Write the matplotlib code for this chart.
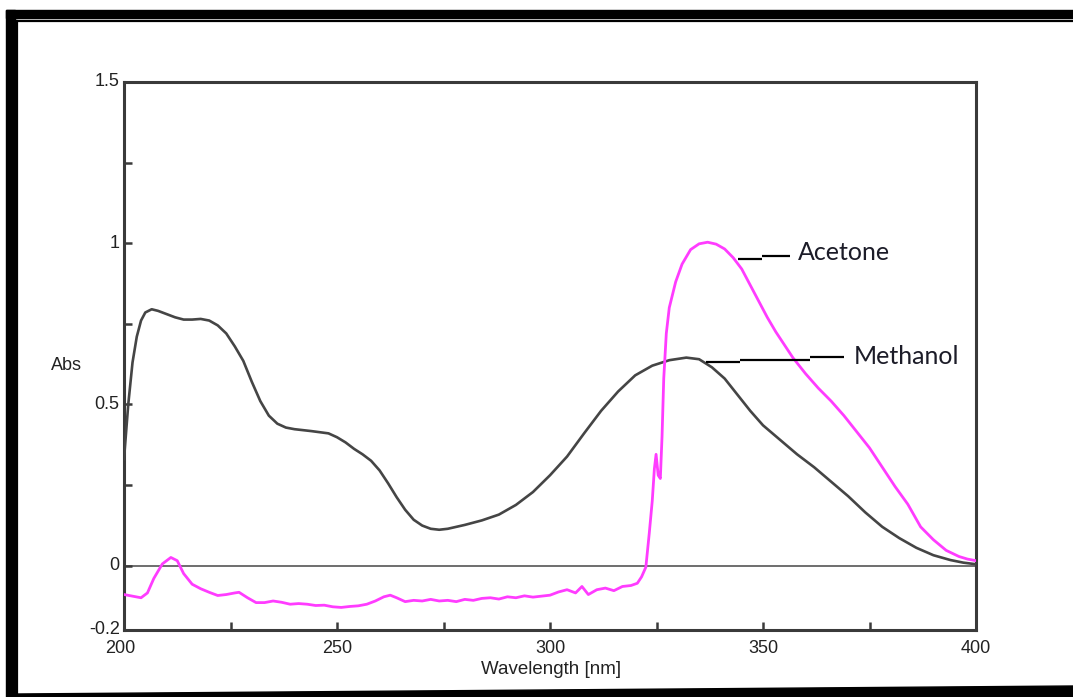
import matplotlib
matplotlib.use("Agg")
import matplotlib.pyplot as plt
from matplotlib.patches import Rectangle, Polygon
from matplotlib.lines import Line2D

# Absorbance spectra (wavelength in nm, absorbance)
methanol_wl = [200, 201, 202, 203, 204, 205, 206.5, 208, 210, 212, 214, 216, 218, 220,
               222, 224, 226, 228, 230, 232, 234, 236, 238, 240, 244, 248, 250, 252,
               254, 256, 258, 260, 262, 264, 266, 268, 270, 272, 274, 276, 280, 284,
               288, 292, 296, 300, 304, 308, 312, 316, 320, 324, 328, 332, 335, 338,
               341, 344, 347, 350, 354, 358, 362, 366, 370, 374, 378, 382, 386, 390,
               394, 397, 400]
methanol_abs = [0.33, 0.50, 0.63, 0.71, 0.76, 0.785, 0.795, 0.79, 0.78, 0.77, 0.763,
                0.763, 0.765, 0.76, 0.745, 0.72, 0.68, 0.635, 0.57, 0.51, 0.465, 0.44,
                0.428, 0.423, 0.417, 0.41, 0.398, 0.382, 0.362, 0.345, 0.325, 0.295,
                0.255, 0.212, 0.173, 0.142, 0.124, 0.114, 0.111, 0.114, 0.126, 0.14,
                0.158, 0.188, 0.228, 0.28, 0.338, 0.41, 0.48, 0.54, 0.59, 0.62, 0.637,
                0.645, 0.64, 0.615, 0.58, 0.53, 0.48, 0.435, 0.39, 0.345, 0.305, 0.26,
                0.215, 0.165, 0.12, 0.085, 0.055, 0.032, 0.017, 0.009, 0.004]

acetone_wl = [200, 202, 204, 205.5, 207, 209, 211, 212.5, 214, 216, 218, 220, 222, 224,
              226, 227, 229, 231, 233, 235, 237, 239, 241, 243, 245, 247, 249, 251, 253,
              255, 257, 259, 261, 262.5, 264, 266, 268, 270, 272, 274, 276, 278, 280,
              282, 284, 286, 288, 290, 292, 294, 296, 298, 300, 302, 304, 306, 307.5,
              309, 311, 313, 315, 317, 319, 320.5, 321.5, 322.5, 323.3, 324, 324.5,
              324.9, 325.4, 325.9, 326.3, 326.7, 327.3, 328, 329.5, 331, 333, 335, 337,
              339, 341, 343, 345, 347, 349, 351, 353, 355, 357, 360, 363, 366, 369,
              372, 375, 378, 381, 384, 387, 390, 393, 396, 398, 400]
acetone_abs = [-0.09, -0.095, -0.1, -0.085, -0.04, 0.005, 0.025, 0.015, -0.025, -0.058,
               -0.072, -0.083, -0.093, -0.09, -0.085, -0.083, -0.1, -0.115, -0.115,
               -0.11, -0.114, -0.12, -0.118, -0.12, -0.124, -0.123, -0.128, -0.13,
               -0.127, -0.125, -0.12, -0.11, -0.097, -0.092, -0.1, -0.112, -0.108,
               -0.11, -0.105, -0.11, -0.108, -0.112, -0.105, -0.108, -0.102, -0.1,
               -0.104, -0.097, -0.1, -0.094, -0.098, -0.095, -0.092, -0.082, -0.075,
               -0.085, -0.065, -0.09, -0.075, -0.07, -0.078, -0.065, -0.062, -0.055,
               -0.035, -0.005, 0.1, 0.2, 0.3, 0.345, 0.28, 0.27, 0.4, 0.58, 0.72, 0.8,
               0.88, 0.935, 0.98, 0.998, 1.003, 0.997, 0.982, 0.955, 0.92, 0.87, 0.82,
               0.77, 0.725, 0.685, 0.645, 0.595, 0.55, 0.51, 0.465, 0.415, 0.365, 0.305,
               0.245, 0.19, 0.12, 0.08, 0.047, 0.028, 0.02, 0.015]

x_tick_labels = ["200", "250", "300", "350", "400"]
y_tick_labels = ["1.5", "1", "0.5", "0", "-0.2"]

W, H = 1073, 697
fig = plt.figure(figsize=(W / 100, H / 100), dpi=100)
fig.patch.set_facecolor("white")


def fx(px):
    return px / W


def fy(py):
    return 1 - py / H


# Page frame around the figure
frame = "black"
fig.patches.append(Rectangle((fx(6), fy(697)), fx(15) - fx(6), fy(10) - fy(697),
                             transform=fig.transFigure, color=frame, zorder=0))
fig.patches.append(Rectangle((fx(6), fy(18)), 1 - fx(6), fy(10) - fy(18),
                             transform=fig.transFigure, color=frame, zorder=0))
fig.lines.append(Line2D([fx(17), 1], [fy(21), fy(21)], transform=fig.transFigure,
                        color=frame, lw=1.6))
fig.lines.append(Line2D([fx(17), fx(17)], [fy(21), fy(697)], transform=fig.transFigure,
                        color=frame, lw=1.6))
fig.patches.append(Polygon([(fx(17), fy(694)), (1, fy(686)), (1, 0), (fx(17), 0)],
                           closed=True, transform=fig.transFigure, color=frame, zorder=0))

ax = fig.add_axes([fx(124), fy(630), fx(976) - fx(124), fy(82) - fy(630)])
ax.set_xlim(200, 400)
ax.set_ylim(-0.2, 1.5)

ax.axhline(0, color="#6e6e6e", lw=1.4, zorder=1)
ax.plot(methanol_wl, methanol_abs, color="#454545", lw=1.9, zorder=3)
ax.plot(acetone_wl, acetone_abs, color="#ff3cff", lw=2.0, zorder=4)

for s in ax.spines.values():
    s.set_color("#3a3a3a")
    s.set_linewidth(2.2)

ax.set_xticks([225, 250, 275, 300, 325, 350, 375])
ax.set_yticks([0, 0.25, 0.5, 0.75, 1.0, 1.25])
ax.tick_params(direction="in", length=6, width=1.8, color="#3a3a3a",
               labelbottom=False, labelleft=False)

tick_font = dict(family="Liberation Sans", fontsize=13, color="#222222")
for lab in x_tick_labels:
    xpos = float(lab) - (0.8 if lab == "200" else 0.0)
    ax.text(xpos, -0.232, lab, ha="center", va="top", **tick_font)
for lab in y_tick_labels:
    ax.text(199.0, float(lab), lab, ha="right", va="center", **tick_font)

fig.text(fx(66), fy(366), "Abs", ha="center", va="center", **tick_font)
fig.text(fx(551), fy(669), "Wavelength [nm]", ha="center", va="center",
         family="Liberation Sans", fontsize=13.5, color="#222222")

# Leader lines and series names
lead = dict(color="black", lw=1.6, solid_capstyle="butt", zorder=5)
ax.plot([344.1, 349.8], [0.951, 0.951], **lead)
ax.plot([349.8, 356.3], [0.960, 0.960], **lead)
ax.plot([336.6, 344.6], [0.630, 0.630], **lead)
ax.plot([344.6, 361.0], [0.638, 0.638], **lead)
ax.plot([361.0, 369.0], [0.646, 0.646], **lead)

name_font = dict(family="Lato", fontsize=18, color="#1c1c28", va="center", ha="left")
ax.text(358.2, 0.970, "Acetone", **name_font)
ax.text(371.3, 0.650, "Methanol", **name_font)

fig.savefig("out.png", dpi=100)
